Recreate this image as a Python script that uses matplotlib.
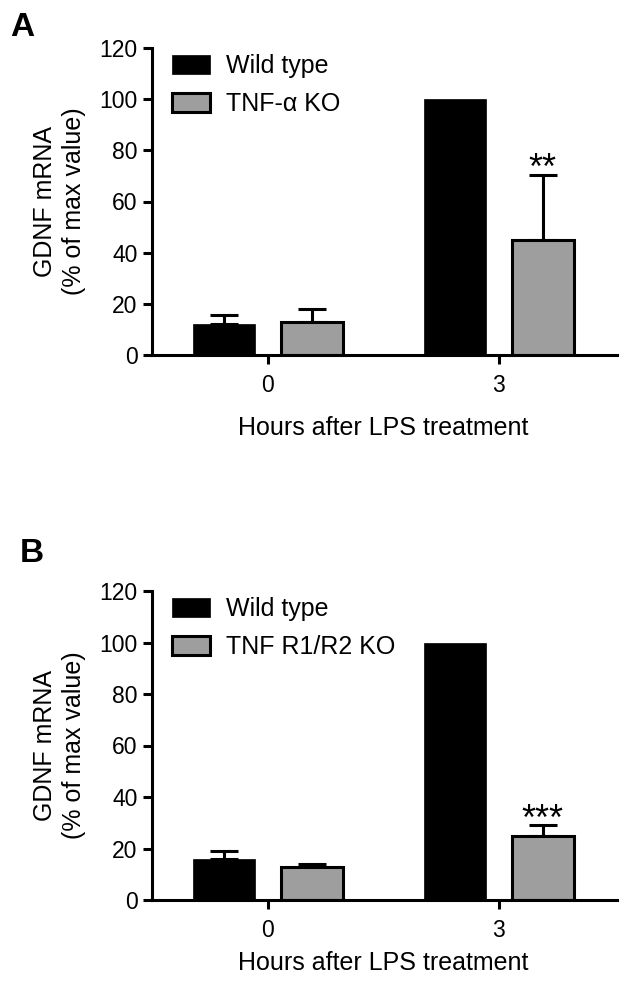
import numpy as np
import matplotlib
matplotlib.use("Agg")
import matplotlib.pyplot as plt

# =========================
# DATA
# =========================

hours = ["0", "3"]

wt_label = "Wild type"
ko_labels = ["TNF-\u03b1 KO", "TNF R1/R2 KO"]
panel_letters = ["A", "B"]

# panel A
wt_a = [12, 100]
wt_a_err = [3.5, 0]
ko_a = [13, 45]
ko_a_err = [5, 25.5]

# panel B
wt_b = [16, 100]
wt_b_err = [3, 0]
ko_b = [13, 25]
ko_b_err = [1, 4]

stars = ["**", "***"]

ylabel = "GDNF mRNA\n(% of max value)"
xlabel = "Hours after LPS treatment"

# =========================
# STYLE
# =========================

plt.rcParams['font.family'] = ['Liberation Sans', 'DejaVu Sans']
plt.rcParams['font.size'] = 18

GRAY = "#9e9e9e"
LW = 2.2
BAR_W = 0.27
OFF = 0.19

W, H = 628, 986
fig = plt.figure(figsize=(W / 100, H / 100), dpi=100)

# axes boxes in pixels: left, top, right, bottom
boxes = [(152, 48, 617, 355), (152, 591, 617, 900)]
xlabel_y = [-0.238, -0.204]
letter_pos = [(22, 27), (32, 554)]

panels = [
    (wt_a, wt_a_err, ko_a, ko_a_err),
    (wt_b, wt_b_err, ko_b, ko_b_err),
]

x = np.arange(len(hours))


def upper_err(ax, xs, ys, errs):
    xs, ys, errs = np.asarray(xs), np.asarray(ys), np.asarray(errs)
    keep = errs > 0
    ax.errorbar(xs[keep], ys[keep], yerr=[np.zeros(keep.sum()), errs[keep]],
                fmt="none", ecolor="black", elinewidth=LW, capsize=10,
                capthick=LW, zorder=1)


for i, (wt, wt_err, ko, ko_err) in enumerate(panels):
    l, t, r, b = boxes[i]
    ax = fig.add_axes([l / W, 1 - b / H, (r - l) / W, (b - t) / H])

    upper_err(ax, x - OFF, wt, wt_err)
    upper_err(ax, x + OFF, ko, ko_err)

    h_wt = ax.bar(x - OFF, wt, BAR_W, color="black", edgecolor="black",
                  linewidth=0.5, label=wt_label, zorder=2)
    h_ko = ax.bar(x + OFF, ko, BAR_W, color=GRAY, edgecolor="black",
                  linewidth=LW, label=ko_labels[i], zorder=2)

    # significance marks on the 3 h KO bar
    ax.annotate(stars[i], xy=(x[1] + OFF, ko[1] + ko_err[1]),
                xytext=(0, -3), textcoords="offset points",
                ha="center", va="baseline", fontsize=26)

    ax.set_xlim(-0.502, 1.511)
    ax.set_ylim(0, 120)
    ax.set_yticks(np.arange(0, 121, 20))
    ax.set_xticks(x)
    ax.set_xticklabels(hours)

    for s in ["top", "right"]:
        ax.spines[s].set_visible(False)
    for s in ["left", "bottom"]:
        ax.spines[s].set_linewidth(LW)

    ax.tick_params(axis="both", width=LW, length=6.5, labelsize=16.5)
    ax.tick_params(axis="x", pad=7)
    ax.tick_params(axis="y", pad=4)

    ax.text(-0.199, 0.5, ylabel, transform=ax.transAxes, rotation=90,
            ha="center", va="center", linespacing=1.3, fontsize=18)
    ax.text(0.497, xlabel_y[i], xlabel, transform=ax.transAxes,
            ha="center", va="center", fontsize=18)

    ax.legend(handles=[h_wt, h_ko], loc="upper left",
              bbox_to_anchor=(0.043, 0.98), frameon=False,
              borderaxespad=0, borderpad=0, handlelength=1.52,
              handleheight=0.8, handletextpad=0.64, labelspacing=0.55,
              fontsize=18)

    lx, ly = letter_pos[i]
    fig.text(lx / W, 1 - ly / H, panel_letters[i], ha="center", va="center",
             fontsize=24, fontweight="bold")

fig.savefig("out.png", dpi=100)
